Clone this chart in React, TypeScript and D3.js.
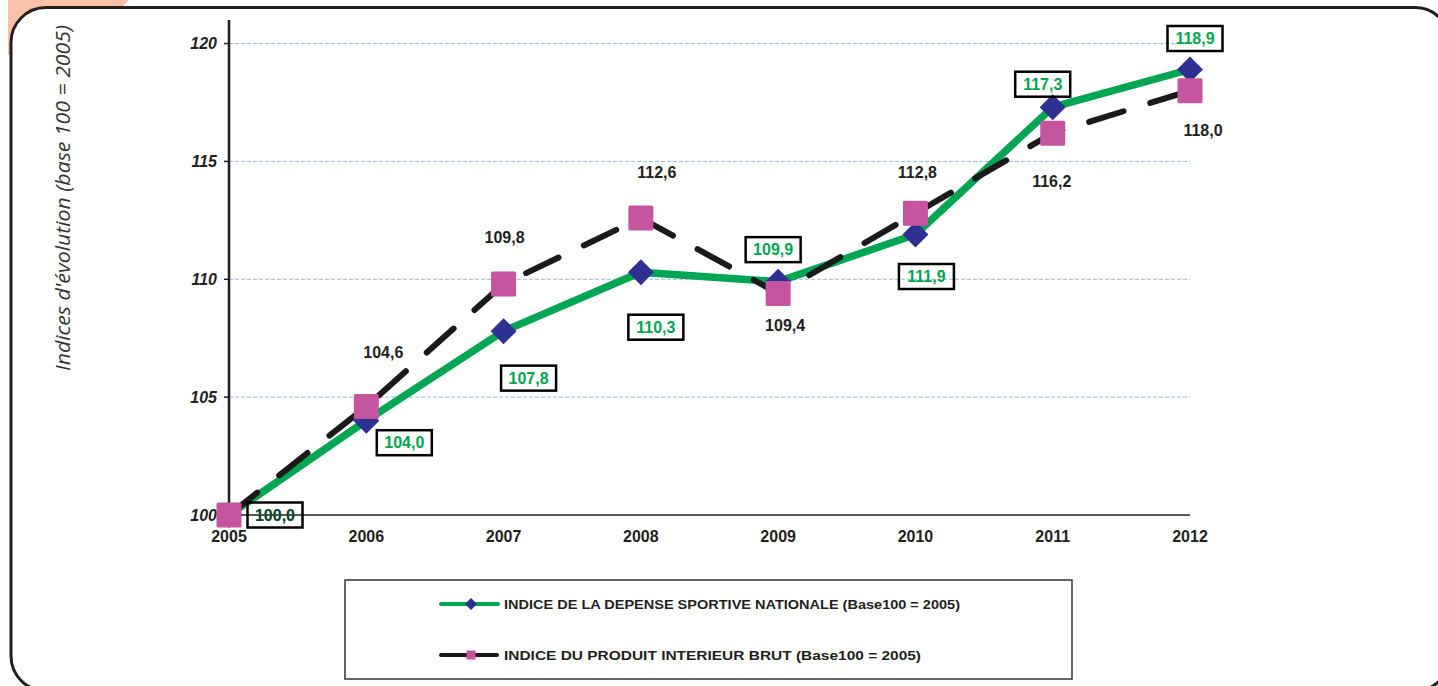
import React from "react";
import * as d3 from "d3";

const years = ["2005", "2006", "2007", "2008", "2009", "2010", "2011", "2012"];
const dsnValues = [100.0, 104.0, 107.8, 110.3, 109.9, 111.9, 117.3, 118.9];
const pibValues = [100.0, 104.6, 109.8, 112.6, 109.4, 112.8, 116.2, 118.0];
const yTicks = [100, 105, 110, 115, 120];
const gridTicks = [105, 110, 115, 120];
const yTitle = "Indices d'évolution (base 100 = 2005)";
const dsnName = "INDICE DE LA DEPENSE SPORTIVE NATIONALE (Base100 = 2005)";
const pibName = "INDICE DU PRODUIT INTERIEUR BRUT (Base100 = 2005)";

// label placement offsets (px) relative to each point
const dsnLabelOffsets: [number, number][] = [
  [46, 0], [38, 22], [25, 47], [15, 55], [-5, -32], [11, 42], [-10, -23], [5, -31],
];
const pibLabelOffsets: [number, number][] = [
  [46, 0], [17, -54], [1, -47], [16, -46], [7, 32], [2, -41], [-1, 48], [13, 40],
];

const fmt = (v: number) => v.toFixed(1).replace(".", ",");
const FONT = "'Liberation Sans', Arial, sans-serif";

export default function App() {
  const W = 1438, H = 686;
  const x = d3.scalePoint<string>().domain(years).range([229, 1190]).padding(0);
  const y = d3.scaleLinear().domain([100, 121]).range([515, 20]);

  const line = d3.line<number>()
    .x((_, i) => x(years[i]) as number)
    .y((d) => y(d));

  const GREEN = "#00a651";
  const NAVY = "#2e3192";
  const PINK = "#c6559f";
  const DARK = "#231f20";

  return (
    <svg width={W} height={H} style={{ position: "absolute", left: 0, top: 0, background: "#fff" }}>
      {/* salmon tab */}
      <polygon points="8,0 129,0 115,14 8,14" fill="#f9c1a8" />
      <rect x={8} y={0} width={40} height={55} fill="#f9c1a8" />
      {/* frame */}
      <rect x={11} y={7.5} width={1439} height={683.5} rx={35} ry={35}
        fill="#fff" stroke={DARK} strokeWidth={3} />

      {/* y title */}
      <text transform={`translate(70,198) rotate(-90)`} textAnchor="middle"
        fontFamily="'Open Sans', 'Noto Sans', sans-serif" fontStyle="italic"
        fontSize={20.5} fill="#333" textLength={346} lengthAdjust="spacingAndGlyphs">{yTitle}</text>

      {/* grid */}
      {gridTicks.map((t) => (
        <line key={t} x1={229} x2={1190} y1={y(t)} y2={y(t)}
          stroke="#92bde6" strokeWidth={1} strokeDasharray="4,2" />
      ))}

      {/* axes */}
      <line x1={229} x2={1190} y1={y(100)} y2={y(100)} stroke={DARK} strokeWidth={1.5} />
      <line x1={229} x2={229} y1={20} y2={y(100)} stroke={DARK} strokeWidth={2.5} />
      {yTicks.map((t) => (
        <g key={t}>
          <line x1={224} x2={229} y1={y(t)} y2={y(t)} stroke={DARK} strokeWidth={1.5} />
          <text x={217} y={y(t)} dy="0.36em" textAnchor="end" fontFamily={FONT}
            fontWeight="bold" fontStyle="italic" fontSize={16} fill={DARK}>{t}</text>
        </g>
      ))}
      {years.map((yr) => (
        <text key={yr} x={x(yr)} y={542} textAnchor="middle" fontFamily={FONT}
          fontWeight="bold" fontSize={16} fill={DARK}>{yr}</text>
      ))}

      {/* series lines */}
      <path d={line(dsnValues) || ""} fill="none" stroke={GREEN} strokeWidth={7.5}
        strokeLinejoin="round" />
      <path d={line(pibValues) || ""} fill="none" stroke="#1a1a1a" strokeWidth={6}
        strokeDasharray="36,28" strokeLinecap="round" />

      {/* markers */}
      {dsnValues.map((v, i) => {
        const cx = x(years[i]) as number, cy = y(v);
        const r = 13;
        return (
          <polygon key={"d" + i}
            points={`${cx},${cy - r} ${cx + r},${cy} ${cx},${cy + r} ${cx - r},${cy}`}
            fill={NAVY} />
        );
      })}
      {pibValues.map((v, i) => {
        const cx = x(years[i]) as number, cy = y(v);
        return (
          <rect key={"p" + i} x={cx - 12.5} y={cy - 12.5} width={25} height={25}
            rx={1.5} fill={PINK} />
        );
      })}

      {/* DSN labels */}
      {dsnValues.map((v, i) => {
        const cx = (x(years[i]) as number) + dsnLabelOffsets[i][0];
        const cy = y(v) + dsnLabelOffsets[i][1];
        return (
          <g key={"dl" + i}>
            <rect x={cx - 27.5} y={cy - 12.5} width={55} height={25} fill="none"
              stroke="#000" strokeWidth={2.5} />
            <text x={cx} y={cy} dy="0.36em" textAnchor="middle" fontFamily={FONT}
              fontWeight="bold" fontSize={16} fill={GREEN}>{fmt(v)}</text>
          </g>
        );
      })}
      {/* PIB labels */}
      {pibValues.map((v, i) => {
        const cx = (x(years[i]) as number) + pibLabelOffsets[i][0];
        const cy = y(v) + pibLabelOffsets[i][1];
        return (
          <text key={"pl" + i} x={cx} y={cy} dy="0.36em" textAnchor="middle"
            fontFamily={FONT} fontWeight="bold" fontSize={16} fill={DARK}
            fillOpacity={i === 0 ? 0.75 : 1}>{fmt(v)}</text>
        );
      })}

      {/* legend */}
      <rect x={345} y={580} width={727} height={99} fill="none" stroke="#333" strokeWidth={1.5} />
      <line x1={441} x2={498} y1={604} y2={604} stroke={GREEN} strokeWidth={4} strokeLinecap="round" />
      <polygon points={`471,598 477,604 471,610 465,604`} fill={NAVY} />
      <text x={504} y={604} dy="0.36em" fontFamily={FONT} fontWeight="bold" fontSize={12.5}
        fill={DARK} textLength={456} lengthAdjust="spacingAndGlyphs">{dsnName}</text>
      <line x1={441} x2={497} y1={655} y2={655} stroke="#1a1a1a" strokeWidth={4} strokeLinecap="round" />
      <rect x={466.5} y={650.5} width={9} height={9} fill={PINK} />
      <text x={504} y={655} dy="0.36em" fontFamily={FONT} fontWeight="bold" fontSize={12.5}
        fill={DARK} textLength={417} lengthAdjust="spacingAndGlyphs">{pibName}</text>
    </svg>
  );
}
